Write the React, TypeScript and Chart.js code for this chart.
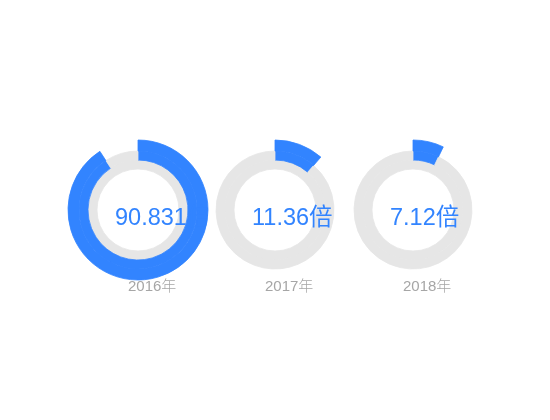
import React, { useEffect, useRef } from "react";
import { Chart, registerables } from "chart.js";

Chart.register(...registerables);

const years = ["2016年", "2017年", "2018年"];
const values = [90.831, 11.36, 7.12];
const valueLabels = ["90.831倍", "11.36倍", "7.12倍"];
const maxValue = 100;

const BLUE = "#3284ff";
const GREY = "#e6e6e6";
const SIZE = 200;

function Ring({ value, label, year, cx, cy }: { value: number; label: string; year: string; cx: number; cy: number }) {
  const ref = useRef<HTMLCanvasElement | null>(null);
  useEffect(() => {
    if (!ref.current) return;
    const textPlugin = {
      id: "centerText",
      afterDatasetsDraw(chart: any) {
        const { ctx } = chart;
        const meta = chart.getDatasetMeta(0);
        const arc = meta.data[0];
        const x = arc.x;
        const y = arc.y;
        ctx.save();
        ctx.beginPath();
        ctx.arc(x, y, arc.outerRadius, 0, Math.PI * 2);
        ctx.clip();
        ctx.fillStyle = BLUE;
        ctx.font = '23.5px "Liberation Sans", Arial, "Noto Sans CJK SC", sans-serif';
        ctx.textAlign = "left";
        ctx.textBaseline = "alphabetic";
        ctx.fillText(label, x - 23, y + 14.5);
        ctx.restore();
        ctx.save();
        ctx.fillStyle = "#a6a6a6";
        ctx.textAlign = "left";
        ctx.textBaseline = "alphabetic";
        ctx.font = '300 15px "Liberation Sans", Arial, "Noto Sans CJK SC", sans-serif';
        ctx.fillText(year, x - 10, y + 81);
        ctx.restore();
      },
    };
    const chart = new Chart(ref.current, {
      type: "doughnut",
      data: {
        labels: ["value", "rest"],
        datasets: [
          {
            data: [value, maxValue - value],
            backgroundColor: [BLUE, "rgba(0,0,0,0)"],
            borderColor: [BLUE, "rgba(0,0,0,0)"],
            borderWidth: 0.8,
            weight: 11,
          },
          {
            data: [value, maxValue - value],
            backgroundColor: [BLUE, GREY],
            borderColor: [BLUE, GREY],
            borderWidth: 0.8,
            weight: 9,
          },
          {
            data: [maxValue],
            backgroundColor: [GREY],
            borderColor: [GREY],
            borderWidth: 0.8,
            weight: 9,
          },
        ],
      },
      options: {
        responsive: false,
        animation: false,
        radius: 70,
        cutout: "58.57%",
        events: [],
        layout: { padding: 0 },
        plugins: { legend: { display: false }, tooltip: { enabled: false } },
      } as any,
      plugins: [textPlugin],
    });
    return () => chart.destroy();
  }, [value, label, year]);
  return (
    <canvas
      ref={ref}
      width={SIZE}
      height={SIZE}
      style={{ position: "absolute", left: cx - SIZE / 2, top: cy - SIZE / 2, width: SIZE, height: SIZE }}
    />
  );
}

export default function App() {
  const centers = [137.5, 274.5, 412.5];
  return (
    <div style={{ position: "absolute", left: 0, top: 0, width: 550, height: 420, background: "#fff" }}>
      {values.map((v, i) => (
        <Ring key={years[i]} value={v} label={valueLabels[i]} year={years[i]} cx={centers[i]} cy={209.5} />
      ))}
    </div>
  );
}
